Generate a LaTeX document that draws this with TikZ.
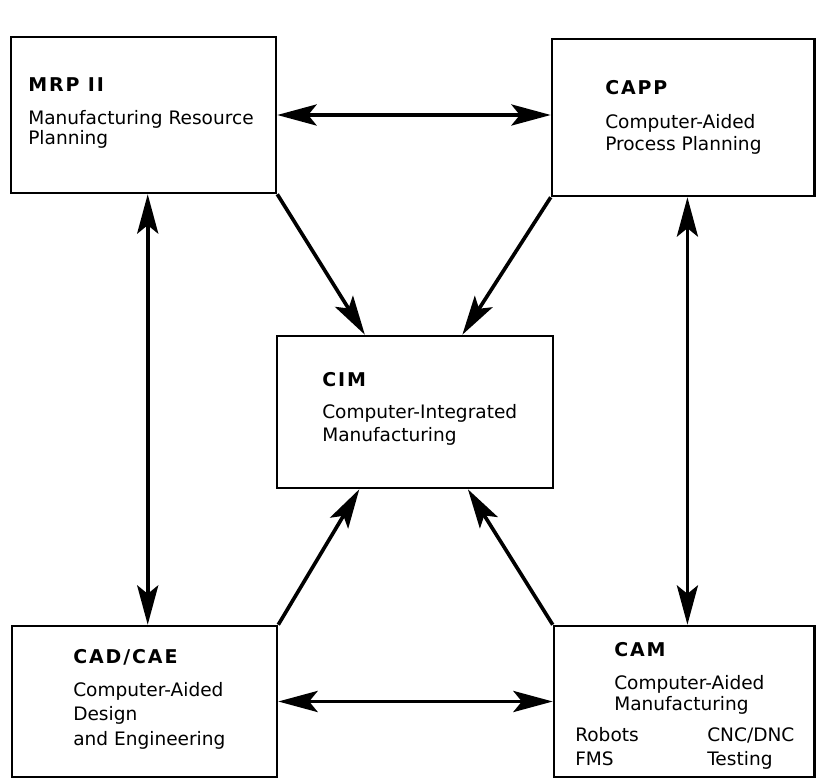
\documentclass[tikz,border=0pt]{standalone}
\usepackage{fontspec}
\setmainfont{DejaVu Sans}
\newfontfamily\headfont{DejaVu Sans}[LetterSpace=10]
\usepackage{tikz}
\usetikzlibrary{arrows.meta,calc}

\tikzset{
  box/.style={draw, line width=1.8pt, inner sep=0pt},
  txt/.style={anchor=base west, inner sep=0pt, font=\fontsize{13.2}{15}\selectfont},
  head/.style={anchor=base west, inner sep=0pt, font=\fontsize{13.5}{15}\headfont\bfseries},
  both/.style={line width=2.6pt, {Stealth[length=28pt, width=15pt, inset=6pt]}-{Stealth[length=28pt, width=15pt, inset=6pt]}},
  into/.style={line width=2.6pt, -{Stealth[length=28pt, width=15pt, inset=6pt]}}
}

\begin{document}
\begin{tikzpicture}
\useasboundingbox (0,0) rectangle (20.425,19.5);
% the five boxes
\node[box, minimum width=6.625cm, minimum height=3.9cm] (mrp) at (3.5875,16.625) {};
\node[box, minimum width=6.56cm, minimum height=3.925cm] (capp) at (17.08,16.5625) {};
\node[box, minimum width=6.9cm, minimum height=3.8cm] (cim) at (10.375,9.2) {};
\node[box, minimum width=6.625cm, minimum height=3.775cm] (cad) at (3.6125,1.9625) {};
\node[box, minimum width=6.51cm, minimum height=3.775cm] (cam) at (17.105,1.9625) {};
% MRP II
\node[head] (mrp-t) at (0.7,17.2) {MRP II};
\node[txt] (mrp-a) at (0.7,16.375) {Manufacturing Resource};
\node[txt] (mrp-b) at (0.7,15.875) {Planning};
% CAPP
\node[head] (capp-t) at (15.125,17.125) {CAPP};
\node[txt] (capp-a) at (15.125,16.275) {Computer-Aided};
\node[txt] (capp-b) at (15.125,15.725) {Process Planning};
% CIM
\node[head] (cim-t) at (8.05,9.825) {CIM};
\node[txt] (cim-a) at (8.05,9.025) {Computer-Integrated};
\node[txt] (cim-b) at (8.05,8.45) {Manufacturing};
% CAD/CAE
\node[head] (cad-t) at (1.825,2.9) {CAD/CAE};
\node[txt] (cad-a) at (1.825,2.075) {Computer-Aided};
\node[txt] (cad-b) at (1.825,1.5) {Design};
\node[txt] (cad-c) at (1.825,0.875) {and Engineering};
% CAM
\node[head] (cam-t) at (15.35,3.1) {CAM};
\node[txt] (cam-a) at (15.35,2.275) {Computer-Aided};
\node[txt] (cam-b) at (15.35,1.75) {Manufacturing};
\node[txt] (cam-c) at (14.375,0.975) {Robots};
\node[txt] (cam-d) at (14.375,0.375) {FMS};
\node[txt] (cam-e) at (17.675,0.975) {CNC/DNC};
\node[txt] (cam-f) at (17.675,0.375) {Testing};
% links round the outside
\draw[both] (mrp.east) -- (mrp.east -| capp.west);
\draw[both] (cad.east) -- (cam.west);
\draw[both] ([xshift=3pt]mrp.south) -- ([xshift=3pt]mrp.south |- cad.north);
\draw[both] ([xshift=3pt]capp.south) -- ([xshift=3pt]capp.south |- cam.north);
% links into CIM
\draw[into] (mrp.south east) -- ($(cim.north west)!0.32!(cim.north east)$);
\draw[into] (capp.south west) -- ($(cim.north west)!0.67!(cim.north east)$);
\draw[into] (cad.north east) -- ($(cim.south west)!0.30!(cim.south east)$);
\draw[into] (cam.north west) -- ($(cim.south west)!0.69!(cim.south east)$);
\end{tikzpicture}
\end{document}
